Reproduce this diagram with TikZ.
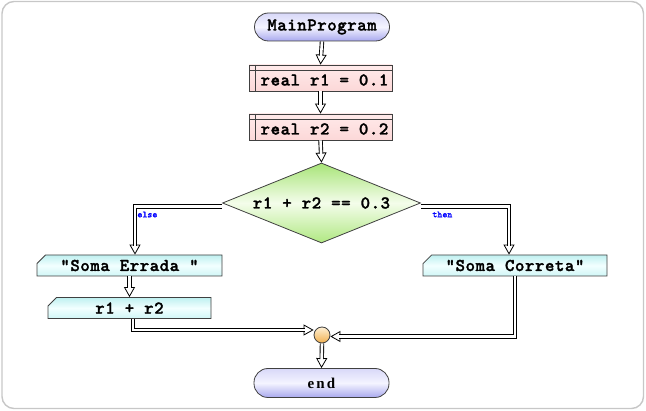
\documentclass[tikz,border=0pt]{standalone}
\usepackage{fontspec}
\usetikzlibrary{arrows.meta,shapes.geometric,shapes.misc,calc}
\newfontfamily\cf[LetterSpace=3,FakeBold=1.6]{lmmonolt10-bold.otf}
\newfontfamily\cfs[FakeBold=1]{lmmonolt10-bold.otf}
\newfontfamily\endfont[LetterSpace=14]{Liberation Serif}
\definecolor{termT}{HTML}{D8D8F8}
\definecolor{termM}{HTML}{F4F4FF}
\definecolor{termB}{HTML}{A8A8EE}
\definecolor{procT}{HTML}{FFEAEA}
\definecolor{procB}{HTML}{FCD8D8}
\definecolor{outT}{HTML}{BFF0F0}
\definecolor{outM}{HTML}{F2FFFF}
\definecolor{outB}{HTML}{D0F6F6}
\definecolor{decT}{HTML}{A8E478}
\definecolor{decM}{HTML}{F4FDEB}
\definecolor{decB}{HTML}{B0E882}
\definecolor{junT}{HTML}{FFF0D4}
\definecolor{junB}{HTML}{F0B050}
\begin{document}
\begin{tikzpicture}[x=1pt,y=-1pt,
  every node/.style={font=\cf\fontsize{18}{20}\selectfont, draw=black!75, line width=0.8pt, inner sep=0pt},
  term/.style={rectangle, rounded corners=14pt, minimum width=135pt, minimum height=28pt,
    top color=termT, bottom color=termB, middle color=termM},
  proc/.style={rectangle, minimum width=143pt, minimum height=26pt, text height=18pt, text depth=3pt,
    top color=procT, bottom color=procB, execute at begin node={\hspace*{8pt}},
    path picture={
      \draw[black!75, line width=0.8pt] ([yshift=-5.5pt]path picture bounding box.north west) -- ([yshift=-5.5pt]path picture bounding box.north east);
      \draw[black!75, line width=0.8pt] ([xshift=6.5pt]path picture bounding box.north west) -- ([xshift=6.5pt]path picture bounding box.south west);}},
  outp/.style={chamfered rectangle, chamfered rectangle corners=north west, chamfered rectangle xsep=7pt,
    minimum height=21pt, top color=outT, bottom color=outB, middle color=outM},
  dec/.style={diamond, minimum width=198pt, minimum height=80pt, aspect=2.47,
    top color=decT, bottom color=decB, middle color=decM},
  junc/.style={circle, minimum size=16pt, top color=junT, bottom color=junB},
  lbl/.style={draw=none, text=blue, font=\cfs\fontsize{9.5}{10}\selectfont, inner sep=0pt},
  flow/.style={
    preaction={draw=white, line width=0.5pt, shorten >=0pt,
      -{Triangle[open, fill=white, color=black, length=10pt, width=11pt, line width=0.8pt]}},
    draw=black, line width=4.4pt, shorten >=9pt,
    postaction={draw=white, line width=2.6pt, shorten >=6pt}},
]
\useasboundingbox (0,0) rectangle (646,411);
\draw[draw=black!22, line width=1.4pt, rounded corners=12pt] (2,1.5) rectangle (643.5,408.5);

\node[term] (main) at (322,27) {MainProgram};
\node[proc] (r1) at (320.5,78) {real r1 = 0.1};
\node[proc] (r2) at (320.5,127) {real r2 = 0.2};
\node[dec] (dia) at (321.5,203) {r1 + r2 == 0.3};
\node[outp, minimum width=185pt] (errada) at (129.5,265.5) {"Soma Errada "};
\node[outp, minimum width=163pt] (sum) at (129.5,308) {r1 + r2};
\node[outp, minimum width=184pt] (correta) at (515,265.5) {"Soma Correta"};
\node[junc] (j) at (322,335) {};
\node[term, minimum height=29pt, font=\endfont\bfseries\fontsize{15}{17}\selectfont] (end) at (321.5,383) {end};

\node[lbl, anchor=west] (else) at (137,214.5) {else};
\node[lbl, anchor=west] (then) at (432,214.5) {then};

\draw[flow] (main.south) -- (r1.north);
\draw[flow] (r1.south) -- (r2.north);
\draw[flow] (r2.south) -- (dia.north);
\draw[flow] ($(dia.west)+(0,3.5)$) -| ($(errada.north)+(5.5,0)$);
\draw[flow] ($(dia.east)+(0,3.5)$) -| ($(correta.north)+(-6,0)$);
\draw[flow] (errada.south) -- (sum.north);
\draw[flow] ($(sum.south)+(3.5,0)$) |- ($(j.west)+(0,-5)$);
\draw[flow] (correta.south) |- ($(j.east)+(0,1.5)$);
\draw[flow] (j.south) -- (end.north);
\end{tikzpicture}
\end{document}
